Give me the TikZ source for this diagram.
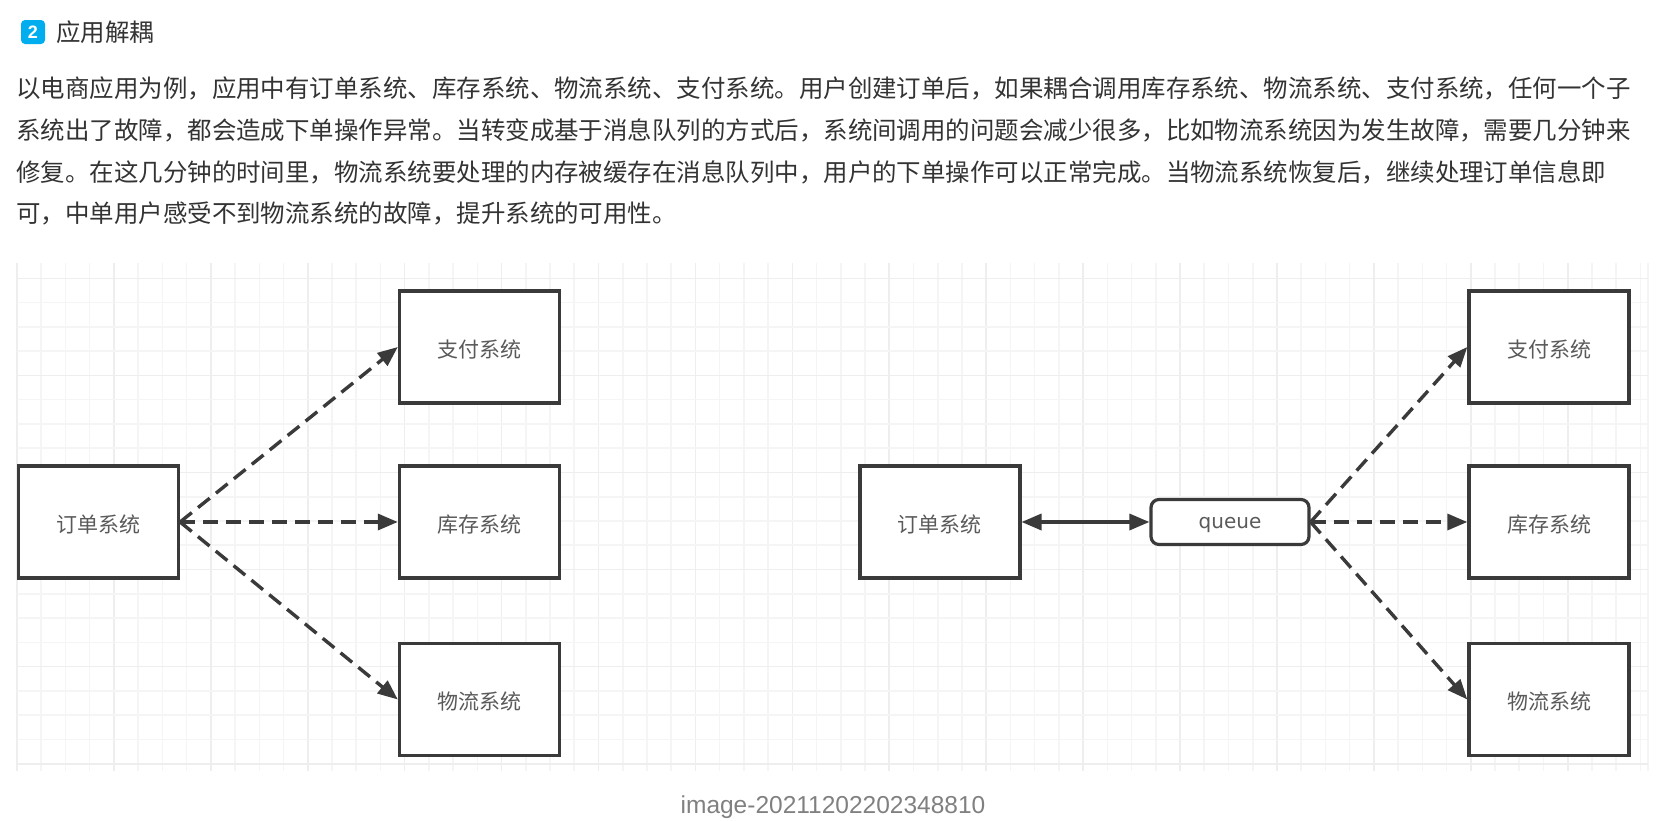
\documentclass[tikz,border=0pt]{standalone}
\usepackage{fontspec}
\setmainfont{Liberation Sans}
\newfontfamily\cjkfont{Noto Sans CJK SC}
\newfontfamily\dejafont{DejaVu Sans}
\usetikzlibrary{arrows.meta,positioning}
\definecolor{inkdark}{HTML}{3A3A3A}
\definecolor{bodytext}{HTML}{333333}
\definecolor{labeltext}{HTML}{5A5A5A}
\definecolor{gridlight}{HTML}{F5F5F5}
\definecolor{gridmajor}{HTML}{EEEEEE}
\definecolor{badgeblue}{HTML}{00AEEF}
\definecolor{captiongray}{HTML}{808080}
\tikzset{
  sysbox/.style={draw=inkdark, line width=1.7pt, fill=white, minimum width=80pt, minimum height=56pt, inner sep=0pt, text=labeltext, text height=11.2pt, text depth=0.9pt, font=\cjkfont\fontsize{10.5}{12}\selectfont},
  queuebox/.style={draw=inkdark, line width=1.6pt, fill=white, rounded corners=4pt, minimum width=79pt, minimum height=22.5pt, inner sep=0pt, text=labeltext, text height=6pt, text depth=0pt, font=\dejafont\fontsize{10}{12}\selectfont},
  dashlink/.style={draw=inkdark, line width=1.7pt, dash pattern=on 7.5pt off 4pt, -{Triangle[length=10pt,width=8pt]}},
  solidlink/.style={draw=inkdark, line width=1.7pt, {Triangle[length=10pt,width=8pt]}-{Triangle[length=10pt,width=8pt]}},
  textline/.style={anchor=west, inner sep=0pt, text=bodytext, font=\cjkfont\fontsize{12.23}{14}\selectfont}
}
\begin{document}
\begin{tikzpicture}[x=0.5pt, y=-0.5pt, line cap=butt, line join=miter]
  \useasboundingbox (0,0) rectangle (1659,820);

  % Heading
  \node[fill=badgeblue, rounded corners=2pt, minimum size=12pt, inner sep=0pt, text=white, font=\bfseries\fontsize{9}{10}\selectfont] (badge) at (33,32) {2};
  \node[textline] (heading) at (56,32.5) {应用解耦};

  % Paragraph
  \node[textline] (lineA) at (16,88) {以电商应用为例，应用中有订单系统、库存系统、物流系统、支付系统。用户创建订单后，如果耦合调用库存系统、物流系统、支付系统，任何一个子};
  \node[textline] (lineB) at (16,130) {系统出了故障，都会造成下单操作异常。当转变成基于消息队列的方式后，系统间调用的问题会减少很多，比如物流系统因为发生故障，需要几分钟来};
  \node[textline] (lineC) at (16,172) {修复。在这几分钟的时间里，物流系统要处理的内存被缓存在消息队列中，用户的下单操作可以正常完成。当物流系统恢复后，继续处理订单信息即};
  \node[textline] (lineD) at (16,213) {可，中单用户感受不到物流系统的故障，提升系统的可用性。};

  % Grid
  \foreach \gx in {0,...,67} {
    \pgfmathtruncatemacro{\gm}{mod(\gx,4)}
    \ifnum\gm=0
      \draw[gridmajor, line width=0.8pt] ({17+24.23*\gx},263) -- ({17+24.23*\gx},771);
    \else
      \draw[gridlight, line width=0.8pt] ({17+24.23*\gx},263) -- ({17+24.23*\gx},771);
    \fi
  }
  \draw[gridlight, line width=0.8pt] (1648,263) -- (1648,771);
  \foreach \gy in {0,...,20} {
    \pgfmathtruncatemacro{\gm}{mod(\gy,4)}
    \ifnum\gm=0
      \draw[gridmajor, line width=0.8pt] (17,{278.3+24.27*\gy}) -- (1648,{278.3+24.27*\gy});
    \else
      \draw[gridlight, line width=0.8pt] (17,{278.3+24.27*\gy}) -- (1648,{278.3+24.27*\gy});
    \fi
  }

  % Left system
  \node[sysbox] (orderL) at (98.4,522) {订单系统};
  \node[sysbox] (payL) at (479.5,347) {支付系统};
  \node[sysbox] (stockL) at (479.5,522) {库存系统};
  \node[sysbox] (shipL) at (479.5,699.5) {物流系统};
  \draw[dashlink] (orderL.east) -- (payL.west);
  \draw[dashlink] (orderL.east) -- (stockL.west);
  \draw[dashlink] (orderL.east) -- (shipL.west);

  % Right system
  \node[sysbox] (orderR) at (939.8,522) {订单系统};
  \node[queuebox] (queue) at (1230,522) {queue};
  \node[sysbox] (payR) at (1549,347) {支付系统};
  \node[sysbox] (stockR) at (1549,522) {库存系统};
  \node[sysbox] (shipR) at (1549,699.5) {物流系统};
  \draw[solidlink] (orderR.east) -- (queue.west);
  \draw[dashlink] (queue.east) -- (payR.west);
  \draw[dashlink] (queue.east) -- (stockR.west);
  \draw[dashlink] (queue.east) -- (shipR.west);

  % Caption
  \node[inner sep=0pt, text=captiongray, font=\fontsize{12.25}{14}\selectfont] (caption) at (833,807.5) {image-20211202202348810};
\end{tikzpicture}
\end{document}
